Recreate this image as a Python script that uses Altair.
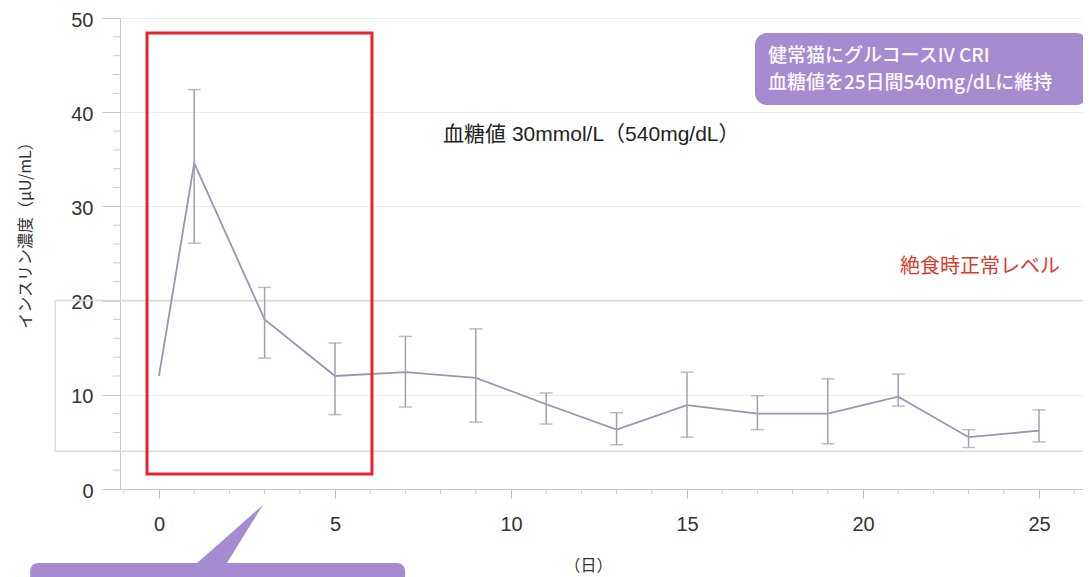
import altair as alt
import pandas as pd

# ---- data ----
days = [0, 1, 3, 5, 7, 9, 11, 13, 15, 17, 19, 21, 23, 25]
insulin = [12.0, 34.6, 18.0, 12.0, 12.4, 11.8, 9.0, 6.3, 8.9, 8.0, 8.0, 9.8, 5.5, 6.2]
err_high = [None, 42.4, 21.4, 15.5, 16.2, 17.0, 10.2, 8.1, 12.4, 9.9, 11.7, 12.2, 6.3, 8.4]
err_low = [None, 26.1, 13.9, 7.9, 8.7, 7.1, 6.9, 4.7, 5.5, 6.3, 4.8, 8.8, 4.4, 5.0]

x_ticks = [0, 5, 10, 15, 20, 25]
y_ticks = [0, 10, 20, 30, 40, 50]
y_minor = [v for v in range(2, 50, 2) if v % 10 != 0]
x_minor = [v for v in range(-1, 27) if v % 5 != 0]

fasting_low, fasting_high = 4, 20

FONT = "Liberation Sans, Noto Sans CJK JP"
JP = "Noto Sans CJK JP"
LINE_COL = "#9d92b2"
PURPLE = "#a58bd0"

df = pd.DataFrame({"day": days, "ins": insulin, "hi": err_high, "lo": err_low})
df_err = df.dropna()

xs = alt.Scale(domain=[-1.108, 26.25], nice=False, zero=False)
ys = alt.Scale(domain=[0, 50], nice=False)

x_axis = alt.Axis(values=x_ticks, title="（日）", labelFontSize=20, labelPadding=16,
                  tickSize=9, tickColor="#bdbdbd", domainColor="#c8c8c8", labelColor="#333",
                  grid=False, titleFontSize=16, titleFontWeight="normal", titleColor="#333",
                  titleX=468, titleY=76, titleBaseline="middle", labelFont=FONT, titleFont=JP)
y_axis = alt.Axis(values=y_ticks, title="インスリン濃度（μU/mL）", labelFontSize=20,
                  labelPadding=9, labelOffset=2, tickSize=18, tickColor="#c8c8c8",
                  domainColor="#c8c8c8", labelColor="#333", gridColor="#ececec", grid=True,
                  titleFontSize=16, titleFontWeight="normal", titleColor="#333",
                  titleX=-95, titleY=213, titleAngle=-90, titleBaseline="middle",
                  labelFont=FONT, titleFont=JP)

line = alt.Chart(df).mark_line(color=LINE_COL, strokeWidth=1.8).encode(
    x=alt.X("day:Q", scale=xs, axis=x_axis),
    y=alt.Y("ins:Q", scale=ys, axis=y_axis),
)
bars = alt.Chart(df_err).mark_rule(color="#a59db0", strokeWidth=1.5).encode(
    x="day:Q", y="lo:Q", y2="hi:Q")
cap_hi = alt.Chart(df_err).mark_tick(color="#a59db0", orient="horizontal", size=13, thickness=1.5).encode(
    x="day:Q", y="hi:Q")
cap_lo = alt.Chart(df_err).mark_tick(color="#a59db0", orient="horizontal", size=13, thickness=1.5).encode(
    x="day:Q", y="lo:Q")

# minor ticks
ymin_df = pd.DataFrame({"v": y_minor})
ymin = alt.Chart(ymin_df).mark_rule(color="#cccccc", strokeWidth=1).encode(
    y="v:Q", x=alt.value(-7), x2=alt.value(0))
xmin_df = pd.DataFrame({"v": x_minor})
xmin = alt.Chart(xmin_df).mark_rule(color="#cccccc", strokeWidth=1).encode(
    x="v:Q", y=alt.value(471), y2=alt.value(476))

# fasting normal level bracket
fast_df = pd.DataFrame({"y": [fasting_low, fasting_high], "x1": [-2.95, -2.95], "x2": [26.3, 26.3]})
fast_lines = alt.Chart(fast_df).mark_rule(color="#dadada", strokeWidth=1.5).encode(
    y="y:Q", x="x1:Q", x2="x2:Q")
fast_vert = alt.Chart(pd.DataFrame({"x": [-2.95], "y1": [fasting_low], "y2": [fasting_high]})).mark_rule(
    color="#dadada", strokeWidth=1.5).encode(x="x:Q", y="y1:Q", y2="y2:Q")

# red highlight box
red_df = pd.DataFrame({"x1": [-0.34], "x2": [6.05], "y1": [1.6], "y2": [48.4]})
red_box = alt.Chart(red_df).mark_rect(fillOpacity=0, stroke="#e3262b", strokeWidth=3).encode(
    x="x1:Q", x2="x2:Q", y="y1:Q", y2="y2:Q")

# purple info box (top right)
pbox_df = pd.DataFrame({"x1": [16.93], "x2": [26.39], "y1": [40.76], "y2": [48.4]})
pbox = alt.Chart(pbox_df).mark_rect(color=PURPLE, cornerRadius=12).encode(
    x="x1:Q", x2="x2:Q", y="y1:Q", y2="y2:Q")
ptext_df = pd.DataFrame({"x": [17.3, 17.3], "y": [46.0, 43.05],
                         "t": ["健常猫にグルコースIV CRI", "血糖値を25日間540mg/dLに維持"]})
ptext = alt.Chart(ptext_df).mark_text(align="left", baseline="middle", color="#fbf8ff",
                                      fontSize=19, font=JP, fontWeight=500).encode(
    x="x:Q", y="y:Q", text="t:N")

# bottom-left callout
cb_df = pd.DataFrame({"x1": [-3.66], "x2": [6.99], "y1": [-7.86], "y2": [-11.0]})
cbox = alt.Chart(cb_df).mark_rect(color=PURPLE, cornerRadius=8).encode(
    x="x1:Q", x2="x2:Q", y="y1:Q", y2="y2:Q")
tri_df = pd.DataFrame({"x": [1.08, 1.93, 2.95], "top": [-7.86, -5.06, -1.70], "bot": [-7.86, -7.86, -1.70]})
tri = alt.Chart(tri_df).mark_area(color=PURPLE).encode(x="x:Q", y="top:Q", y2="bot:Q")

# text annotations
ann_df = pd.DataFrame({"x": [8.07], "y": [37.6], "t": ["血糖値  30mmol/L（540mg/dL）"]})
ann = alt.Chart(ann_df).mark_text(align="left", baseline="middle", color="#222",
                                  fontSize=21, font=FONT).encode(x="x:Q", y="y:Q", text="t:N")
fast_text_df = pd.DataFrame({"x": [21.05], "y": [23.6], "t": ["絶食時正常レベル"]})
fast_text = alt.Chart(fast_text_df).mark_text(align="left", baseline="middle", color="#d83c30",
                                              fontSize=20, font=JP).encode(x="x:Q", y="y:Q", text="t:N")

chart = alt.layer(
    fast_lines, fast_vert, ymin, xmin, line, bars, cap_hi, cap_lo,
    red_box, pbox, ptext, cbox, tri, ann, fast_text
).properties(
    width=963, height=471,
    padding={"left": 112, "top": 10, "right": 0, "bottom": 89},
    autosize=alt.AutoSizeParams(type="none"),
).configure_view(stroke=None).configure(background="white")

chart.save("out.html", embed_options={"renderer": "svg", "actions": False})
